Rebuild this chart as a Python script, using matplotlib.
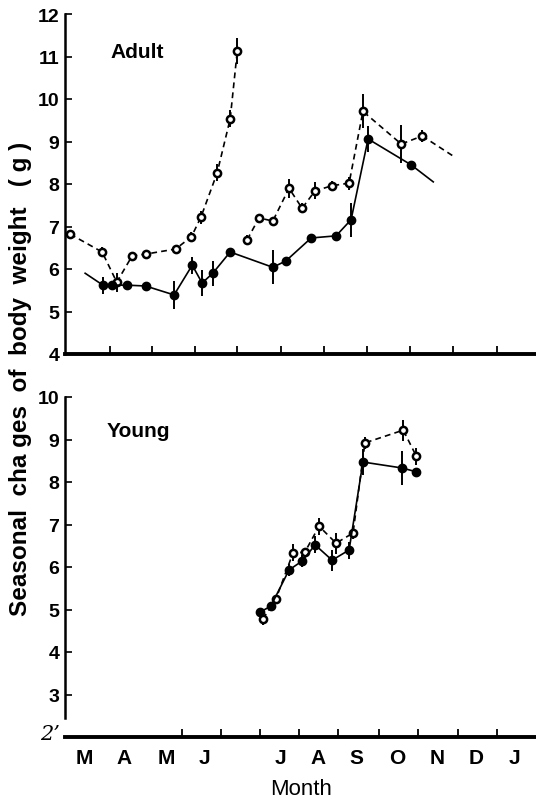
import matplotlib
matplotlib.use("Agg")
import matplotlib.pyplot as plt

# x is in "month" units: 0 = March label position, 1 month per unit
# Adult, open circles (dashed), two separate segments
adult_open_x1 = [-0.35, 0.46, 0.83, 1.22, 1.56, 2.32, 2.72, 2.96, 3.37, 3.70, 3.88]
adult_open_y1 = [6.82, 6.40, 5.69, 6.31, 6.35, 6.47, 6.76, 7.22, 8.26, 9.53, 11.13]
adult_open_e1 = [0.0, 0.12, 0.22, 0.1, 0.1, 0.1, 0.1, 0.15, 0.2, 0.2, 0.3]
adult_open_x2 = [4.13, 4.43, 4.78, 5.19, 5.52, 5.85, 6.28, 6.71, 7.06, 8.03, 8.56]
adult_open_y2 = [6.69, 7.20, 7.13, 7.90, 7.43, 7.84, 7.96, 8.02, 9.71, 8.94, 9.13]
adult_open_e2 = [0.1, 0.1, 0.1, 0.22, 0.12, 0.2, 0.12, 0.15, 0.4, 0.45, 0.15]
adult_open_tail = (9.34, 8.66)

# Adult, filled circles (solid)
adult_fill_x = [0.48, 0.71, 1.09, 1.56, 2.28, 2.74, 2.99, 3.26, 3.70, 4.78, 5.11, 5.75, 6.38, 6.76, 7.19, 8.28]
adult_fill_y = [5.62, 5.62, 5.62, 5.60, 5.39, 6.09, 5.67, 5.90, 6.40, 6.04, 6.19, 6.73, 6.78, 7.16, 9.06, 8.45]
adult_fill_e = [0.2, 0.0, 0.0, 0.0, 0.33, 0.2, 0.3, 0.3, 0.0, 0.4, 0.0, 0.0, 0.0, 0.4, 0.3, 0.0]
adult_fill_head = (0.03, 5.90)
adult_fill_tail = (8.84, 8.05)

# Young
young_fill_x = [4.46, 4.73, 5.19, 5.52, 5.85, 6.28, 6.71, 7.06, 8.05, 8.41]
young_fill_y = [4.94, 5.08, 5.93, 6.14, 6.52, 6.16, 6.40, 8.47, 8.33, 8.24]
young_fill_e = [0.1, 0.08, 0.15, 0.15, 0.2, 0.25, 0.2, 0.3, 0.4, 0.0]
young_open_x = [4.53, 4.86, 5.29, 5.59, 5.95, 6.38, 6.81, 7.11, 8.08, 8.41]
young_open_y = [4.78, 5.25, 6.33, 6.35, 6.96, 6.56, 6.80, 8.92, 9.22, 8.61]
young_open_e = [0.15, 0.05, 0.2, 0.1, 0.2, 0.25, 0.15, 0.15, 0.25, 0.2]

month_labels = ["M", "A", "M", "J", "J", "A", "S", "O", "N", "D", "J"]
month_pos = [0.0, 1.01, 2.08, 3.04, 4.96, 5.92, 6.89, 7.92, 8.94, 9.92, 10.89]
top_xticks = [0.66, 1.72, 2.81, 3.87, 4.99, 6.08, 7.17, 8.25, 9.34, 10.46]
bottom_xticks = [2.48, 3.47, 4.46, 5.44, 6.43, 7.47, 8.46, 9.47, 10.46]

W, H = 536, 803
fig = plt.figure(figsize=(W / 100, H / 100), dpi=100)
ax1 = fig.add_axes([65 / W, 1 - 355 / H, 471 / W, 340 / H])
ax2 = fig.add_axes([65 / W, 1 - 738 / H, 471 / W, 340 / H])

sans = ["Liberation Sans", "DejaVu Sans"]

open_kw = dict(color="black", ls=(0, (3.5, 2.5)), lw=1.2, marker="o", ms=5.2,
               mfc="white", mec="black", mew=1.8, elinewidth=1.4, capsize=0)
fill_kw = dict(color="black", ls="-", lw=1.2, marker="o", ms=6,
               mfc="black", mec="black", elinewidth=1.4, capsize=0)

# top panel
ax1.errorbar(adult_open_x1, adult_open_y1, yerr=adult_open_e1, **open_kw)
ax1.plot([adult_open_x2[-1], adult_open_tail[0]], [adult_open_y2[-1], adult_open_tail[1]],
         color="black", ls=(0, (3.5, 2.5)), lw=1.2)
ax1.errorbar(adult_open_x2, adult_open_y2, yerr=adult_open_e2, **open_kw)
ax1.plot([adult_fill_head[0], adult_fill_x[0]], [adult_fill_head[1], adult_fill_y[0]], color="black", lw=1.2)
ax1.plot([adult_fill_x[-1], adult_fill_tail[0]], [adult_fill_y[-1], adult_fill_tail[1]], color="black", lw=1.2)
ax1.errorbar(adult_fill_x, adult_fill_y, yerr=adult_fill_e, **fill_kw)
ax1.set_ylim(4, 12)
ax1.set_yticks(range(4, 13))
ax1.set_xticks(top_xticks)
ax1.set_xticklabels([])
ax1.text(0.096, 0.89, "Adult", transform=ax1.transAxes, ha="left", va="center",
         fontsize=15, fontweight="bold", family=sans)

# bottom panel
ax2.errorbar(young_open_x, young_open_y, yerr=young_open_e, **open_kw)
ax2.errorbar(young_fill_x, young_fill_y, yerr=young_fill_e, **fill_kw)
ax2.set_ylim(2, 10)
ax2.set_yticks(range(3, 11))
ax2.spines["left"].set_bounds(2.45, 10)
ax2.set_xticks(bottom_xticks)
ax2.set_xticklabels([])
ax2.set_xticks(month_pos, minor=True)
ax2.set_xticklabels(month_labels, minor=True, fontsize=15, fontweight="bold", family=sans)
ax2.tick_params(axis="x", which="minor", length=0, pad=8)
ax2.text(0.089, 0.9, "Young", transform=ax2.transAxes, ha="left", va="center",
         fontsize=15, fontweight="bold", family=sans)

for ax in (ax1, ax2):
    ax.set_xlim(-0.48, 11.44)
    for s in ("top", "right"):
        ax.spines[s].set_visible(False)
    ax.spines["left"].set_linewidth(1.8)
    ax.spines["bottom"].set_linewidth(2.8)
    ax.tick_params(axis="y", direction="in", length=5, width=1.2, pad=4, labelsize=14)
    ax.tick_params(axis="x", which="major", direction="in", length=6, width=1.3)
    for lab in ax.get_yticklabels():
        lab.set_fontweight("bold")
        lab.set_family(sans)

fig.text(50 / W, 1 - 735 / H, "2\u2019", ha="center", va="center", fontsize=15,
         family="DejaVu Serif", style="italic")
fig.text(301 / W, 1 - 790 / H, "Month", ha="center", va="center", fontsize=16, family=sans)
fig.text(21 / W, 1 - 379 / H, "Seasonal  cha ges  of  body  weight   ( g )", rotation=90,
         ha="center", va="center", fontsize=17.5, fontweight="bold", family=sans)

fig.savefig("out.png", dpi=100)
